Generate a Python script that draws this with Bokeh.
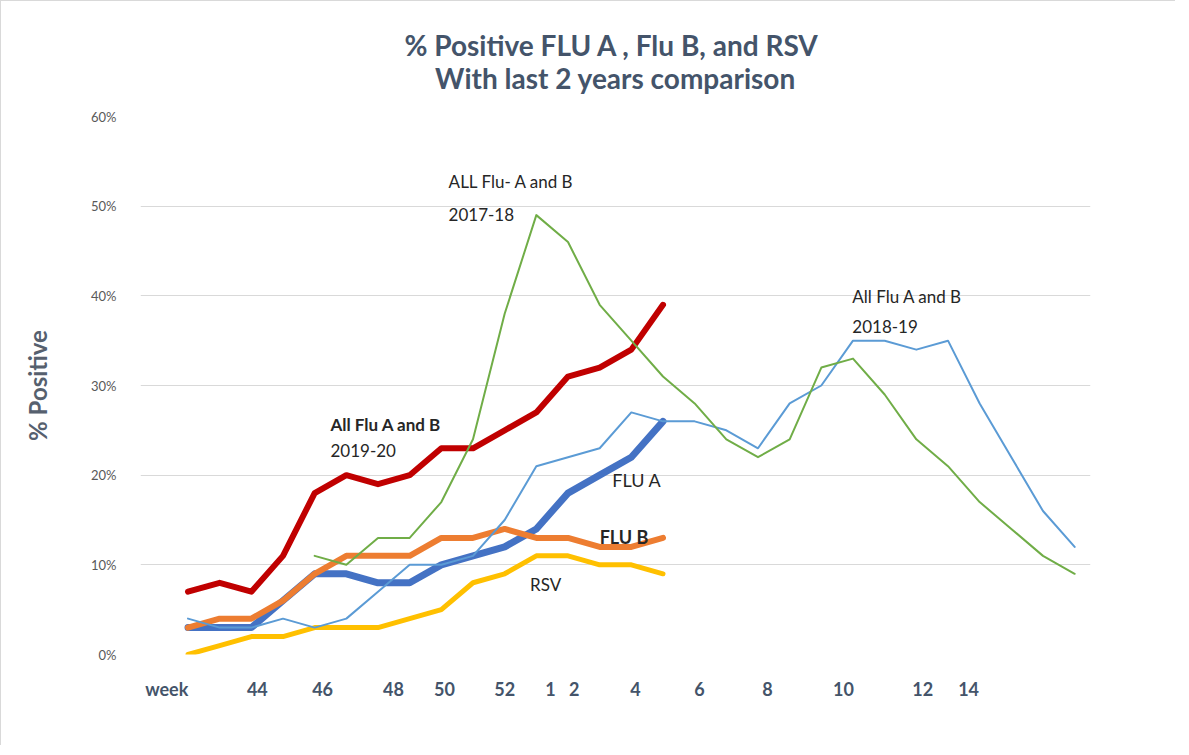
from bokeh.plotting import figure
from bokeh.models import Label, Title, FixedTicker, PrintfTickFormatter, Range1d
from bokeh.embed import file_html
from bokeh.resources import INLINE

# x axis: 30 weekly slots (slot index), tick labels placed as in the source
tick_labels = ["week", "44", "46", "48", "50", "52", "1", "2", "4", "6", "8", "10", "12", "14"]
tick_slots = [0.83, 3.69, 5.75, 7.99, 9.6, 11.5, 12.95, 13.7, 15.63, 17.65, 19.8, 22.2, 24.7, 26.15]

# % positive series (first slot index, values)
all_flu_1920_start = 1
all_flu_1920 = [7, 8, 7, 11, 18, 20, 19, 20, 23, 23, 25, 27, 31, 32, 34, 39]
flu_a_start = 1
flu_a = [3, 3, 3, 6, 9, 9, 8, 8, 10, 11, 12, 14, 18, 20, 22, 26]
flu_b_start = 1
flu_b = [3, 4, 4, 6, 9, 11, 11, 11, 13, 13, 14, 13, 13, 12, 12, 13]
rsv_start = 1
rsv = [0, 1, 2, 2, 3, 3, 3, 4, 5, 8, 9, 11, 11, 10, 10, 9]
all_flu_1819_start = 1
all_flu_1819 = [4, 3, 3, 4, 3, 4, 7, 10, 10, 11, 15, 21, 22, 23, 27, 26, 26, 25, 23, 28,
                30, 35, 35, 34, 35, 28, 22, 16, 12]
all_flu_1718_start = 5
all_flu_1718 = [11, 10, 13, 13, 17, 24, 38, 49, 46, 39, 35, 31, 28, 24, 22, 24, 32, 33, 29, 24,
                21, 17, 14, 11, 9]

title_lines = ["% Positive  FLU A , Flu B, and RSV", "With last 2 years comparison"]

FONT = "Lato"
SLATE = "#44546A"

p = figure(width=1175, height=745, output_backend="svg", toolbar_location=None,
           title=None, x_range=Range1d(0, 30), y_range=Range1d(0, 60),
           min_border_left=139, min_border_right=86, min_border_bottom=92, min_border_top=115)
p.outline_line_color = None
p.background_fill_color = "white"
p.border_fill_color = "white"
p.styles = {"border-top": "1px solid #D9D9D9", "border-left": "1px solid #D9D9D9"}

# two centred title lines (inner line added first)
p.add_layout(Title(text=title_lines[1], align="center",
                   text_font=FONT, text_font_size="28px", text_font_style="bold",
                   text_color=SLATE, standoff=44), "above")
p.add_layout(Title(text=title_lines[0], align="center",
                   text_font=FONT, text_font_size="28px", text_font_style="bold",
                   text_color=SLATE, standoff=-50), "above")


def xs(start, vals):
    return [start + k + 0.5 for k in range(len(vals))]


kw = dict(line_join="round", line_cap="round")
p.line(xs(all_flu_1920_start, all_flu_1920), all_flu_1920, line_color="#C00000", line_width=6, **kw)
p.line(xs(flu_a_start, flu_a), flu_a, line_color="#4472C4", line_width=7, **kw)
p.line(xs(flu_b_start, flu_b), flu_b, line_color="#ED7D31", line_width=6, **kw)
p.line(xs(rsv_start, rsv), rsv, line_color="#FFC000", line_width=5, **kw)
p.line(xs(all_flu_1819_start, all_flu_1819), all_flu_1819, line_color="#5B9BD5", line_width=2, **kw)
p.line(xs(all_flu_1718_start, all_flu_1718), all_flu_1718, line_color="#70AD47", line_width=2, **kw)

# axes
p.xgrid.grid_line_color = None
p.ygrid.grid_line_color = "#D9D9D9"
p.ygrid.grid_line_width = 1

p.xaxis.ticker = FixedTicker(ticks=tick_slots)
p.xaxis.major_label_overrides = {t: lab for t, lab in zip(tick_slots, tick_labels)}
p.xaxis.major_label_text_font = FONT
p.xaxis.major_label_text_font_size = "18px"
p.xaxis.major_label_text_font_style = "bold"
p.xaxis.major_label_text_color = SLATE
p.xaxis.major_label_standoff = 17
p.xaxis.axis_line_color = None
p.xaxis.major_tick_line_color = None
p.xaxis.minor_tick_line_color = None

p.yaxis.ticker = FixedTicker(ticks=[0, 10, 20, 30, 40, 50, 60])
p.yaxis.formatter = PrintfTickFormatter(format="%d%%")
p.yaxis.major_label_text_font = FONT
p.yaxis.major_label_text_font_size = "13px"
p.yaxis.major_label_text_color = "#595959"
p.yaxis.major_label_standoff = 18
p.yaxis.axis_line_color = None
p.yaxis.major_tick_line_color = None
p.yaxis.minor_tick_line_color = None
p.yaxis.axis_label = "% Positive"
p.yaxis.axis_label_text_font = FONT
p.yaxis.axis_label_text_font_size = "24px"
p.yaxis.axis_label_text_font_style = "bold"
p.yaxis.axis_label_text_color = "#56606E"
p.yaxis.axis_label_standoff = 36

# annotations
TXT = "#262626"
notes = [
    (9.73, 52.7, "ALL Flu- A and B", "normal", "17px"),
    (9.73, 49.1, "2017-18", "normal", "17px"),
    (6.0, 25.7, "All Flu A and B", "bold", "17px"),
    (6.0, 22.7, "2019-20", "normal", "17px"),
    (14.9, 19.5, "FLU A", "normal", "18px"),
    (14.5, 13.1, "FLU B", "bold", "18px"),
    (12.3, 7.8, "RSV", "normal", "17px"),
    (22.48, 39.9, "All Flu A and B", "normal", "17px"),
    (22.48, 36.6, "2018-19", "normal", "17px"),
]
for x, y, t, st, sz in notes:
    p.add_layout(Label(x=x, y=y, text=t, text_font=FONT, text_font_size=sz,
                       text_font_style=st, text_color=TXT, text_baseline="middle",
                       text_align="left"))

open("out.html", "w").write(file_html(p, INLINE))
